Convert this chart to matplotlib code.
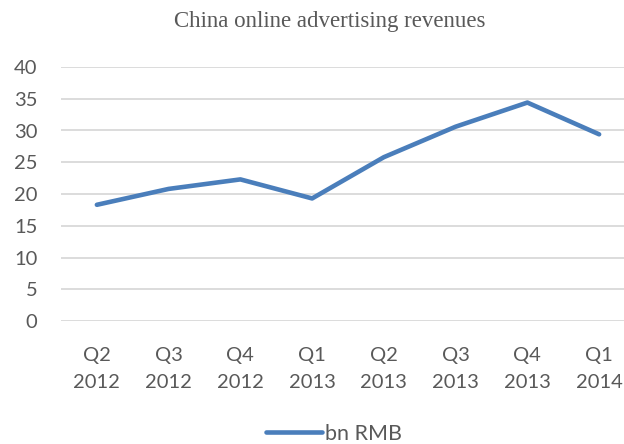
import matplotlib
matplotlib.use("Agg")
import matplotlib.pyplot as plt
from matplotlib.lines import Line2D

categories = ["Q2\n2012", "Q3\n2012", "Q4\n2012", "Q1\n2013", "Q2\n2013", "Q3\n2013", "Q4\n2013", "Q1\n2014"]
values = [18.3, 20.8, 22.3, 19.3, 25.8, 30.6, 34.4, 29.4]
yticks = [0, 5, 10, 15, 20, 25, 30, 35, 40]
title = "China online advertising revenues"
series_name = "bn RMB"

W, H = 624, 444
fig = plt.figure(figsize=(W / 100, H / 100), dpi=100)
fig.patch.set_facecolor("white")

left, right, top, bottom = 61, 635, 67, 321
ax = fig.add_axes([left / W, 1 - bottom / H, (right - left) / W, (bottom - top) / H])
ax.set_facecolor("none")

x = list(range(len(categories)))
color = "#4A7EBB"
ax.plot(x, values, color=color, lw=3.3, solid_capstyle="round", solid_joinstyle="round", zorder=3, clip_on=False)

ax.set_xlim(-0.5, len(categories) - 0.5)
ax.set_ylim(0, 40)
ax.set_yticks(yticks)
ax.set_xticks(x)
ax.set_xticklabels(categories, linespacing=1.68)
ax.grid(axis="y", color="#D9D9D9", lw=1.3)
ax.set_axisbelow(True)
for s in ax.spines.values():
    s.set_visible(False)
ax.tick_params(axis="both", length=0, labelcolor="#595959", labelsize=14.5)
ax.tick_params(axis="y", pad=17)
ax.tick_params(axis="x", pad=19)
for lab in ax.get_xticklabels() + ax.get_yticklabels():
    lab.set_family("Lato")

fig.text(330 / W, 1 - 22 / H, title, ha="center", va="center", family="Liberation Serif",
         fontsize=16.5, color="#595959")

handle = Line2D([], [], color=color, lw=3.3, solid_capstyle="round")
leg = fig.legend([handle], [series_name], loc="center", bbox_to_anchor=(334 / W, 1 - 434 / H),
                 frameon=False, handlelength=2.6, handletextpad=0.15,
                 prop={"family": "Lato", "size": 15.5})
for t in leg.get_texts():
    t.set_color("#595959")

fig.savefig("out.png", dpi=100, facecolor="white")
